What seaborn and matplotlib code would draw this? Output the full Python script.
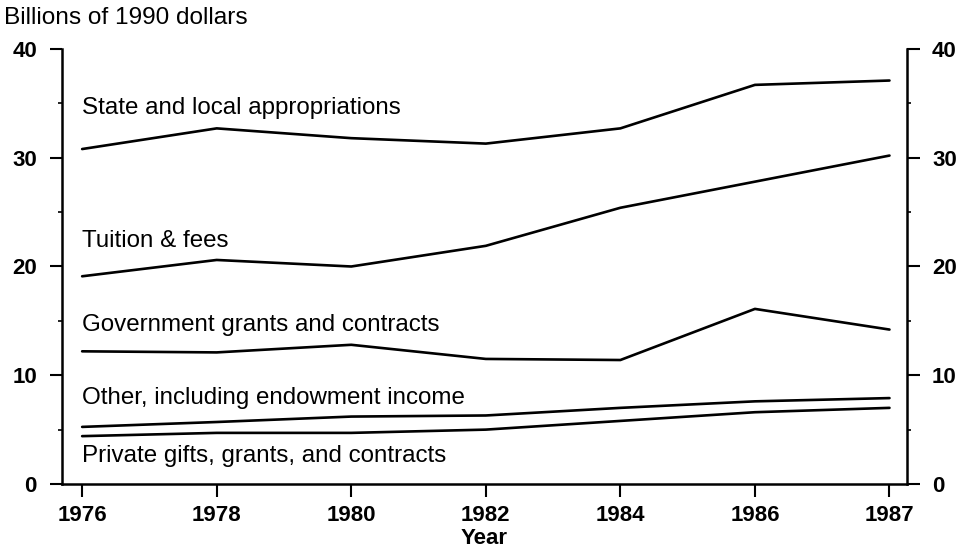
import numpy as np
import pandas as pd
import matplotlib.pyplot as plt
import seaborn as sns
from matplotlib.ticker import MultipleLocator

years = ['1976', '1978', '1980', '1982', '1984', '1986', '1987']
state_local = [30.8, 32.7, 31.8, 31.3, 32.7, 36.7, 37.1]
tuition = [19.1, 20.6, 20.0, 21.9, 25.4, 27.8, 30.2]
government = [12.2, 12.1, 12.8, 11.5, 11.4, 16.1, 14.2]
other = [5.25, 5.7, 6.2, 6.3, 7.0, 7.6, 7.9]
private = [4.4, 4.7, 4.7, 5.0, 5.8, 6.6, 7.0]

series = {
    'State and local appropriations': state_local,
    'Tuition & fees': tuition,
    'Government grants and contracts': government,
    'Other, including endowment income': other,
    'Private gifts, grants, and contracts': private,
}
label_y = {
    'State and local appropriations': 34.6,
    'Tuition & fees': 22.3,
    'Government grants and contracts': 14.6,
    'Other, including endowment income': 7.9,
    'Private gifts, grants, and contracts': 2.6,
}

sns.set_style('ticks')
plt.rcParams['font.family'] = ['Liberation Sans', 'DejaVu Sans']
plt.rcParams['text.color'] = 'black'

fig = plt.figure(figsize=(9.62, 5.48), dpi=100)
ax = fig.add_axes([0.0644, 0.1168, 0.8784, 0.7938])

pos = np.arange(len(years))
for name, vals in series.items():
    sns.lineplot(x=pos, y=vals, color='black', linewidth=1.9, ax=ax)
    ax.text(0.0, label_y[name], name, fontsize=17.4, va='center', ha='left',
            color='black')

ax.set_xlim(-0.15, 6.13)
ax.set_ylim(0, 40)
ax.set_xticks(pos)
ax.set_xticklabels(years)
ax.yaxis.set_major_locator(MultipleLocator(10))
ax.yaxis.set_minor_locator(MultipleLocator(5))

for side in ['left', 'right', 'bottom']:
    ax.spines[side].set_visible(True)
    ax.spines[side].set_linewidth(1.8)
    ax.spines[side].set_color('black')
ax.spines['top'].set_visible(False)

ax.tick_params(axis='both', which='major', length=9, width=1.5, labelsize=16,
               colors='black')
ax.tick_params(axis='y', which='major', right=True, labelright=True, pad=9)
ax.tick_params(axis='y', which='minor', left=True, right=True, length=3, width=1.2,
               colors='black')
ax.tick_params(axis='x', which='major', pad=6)
for lbl in ax.get_xticklabels() + ax.get_yticklabels():
    lbl.set_fontweight('bold')

ax.set_xlabel('')
ax.set_ylabel('')
fig.text(0.503, 0.018, 'Year', ha='center', va='center', fontsize=16,
         fontweight='bold', color='black')
fig.text(0.004, 0.967, 'Billions of 1990 dollars', ha='left', va='center',
         fontsize=17.6, color='black')

fig.savefig('out.png', dpi=100)
